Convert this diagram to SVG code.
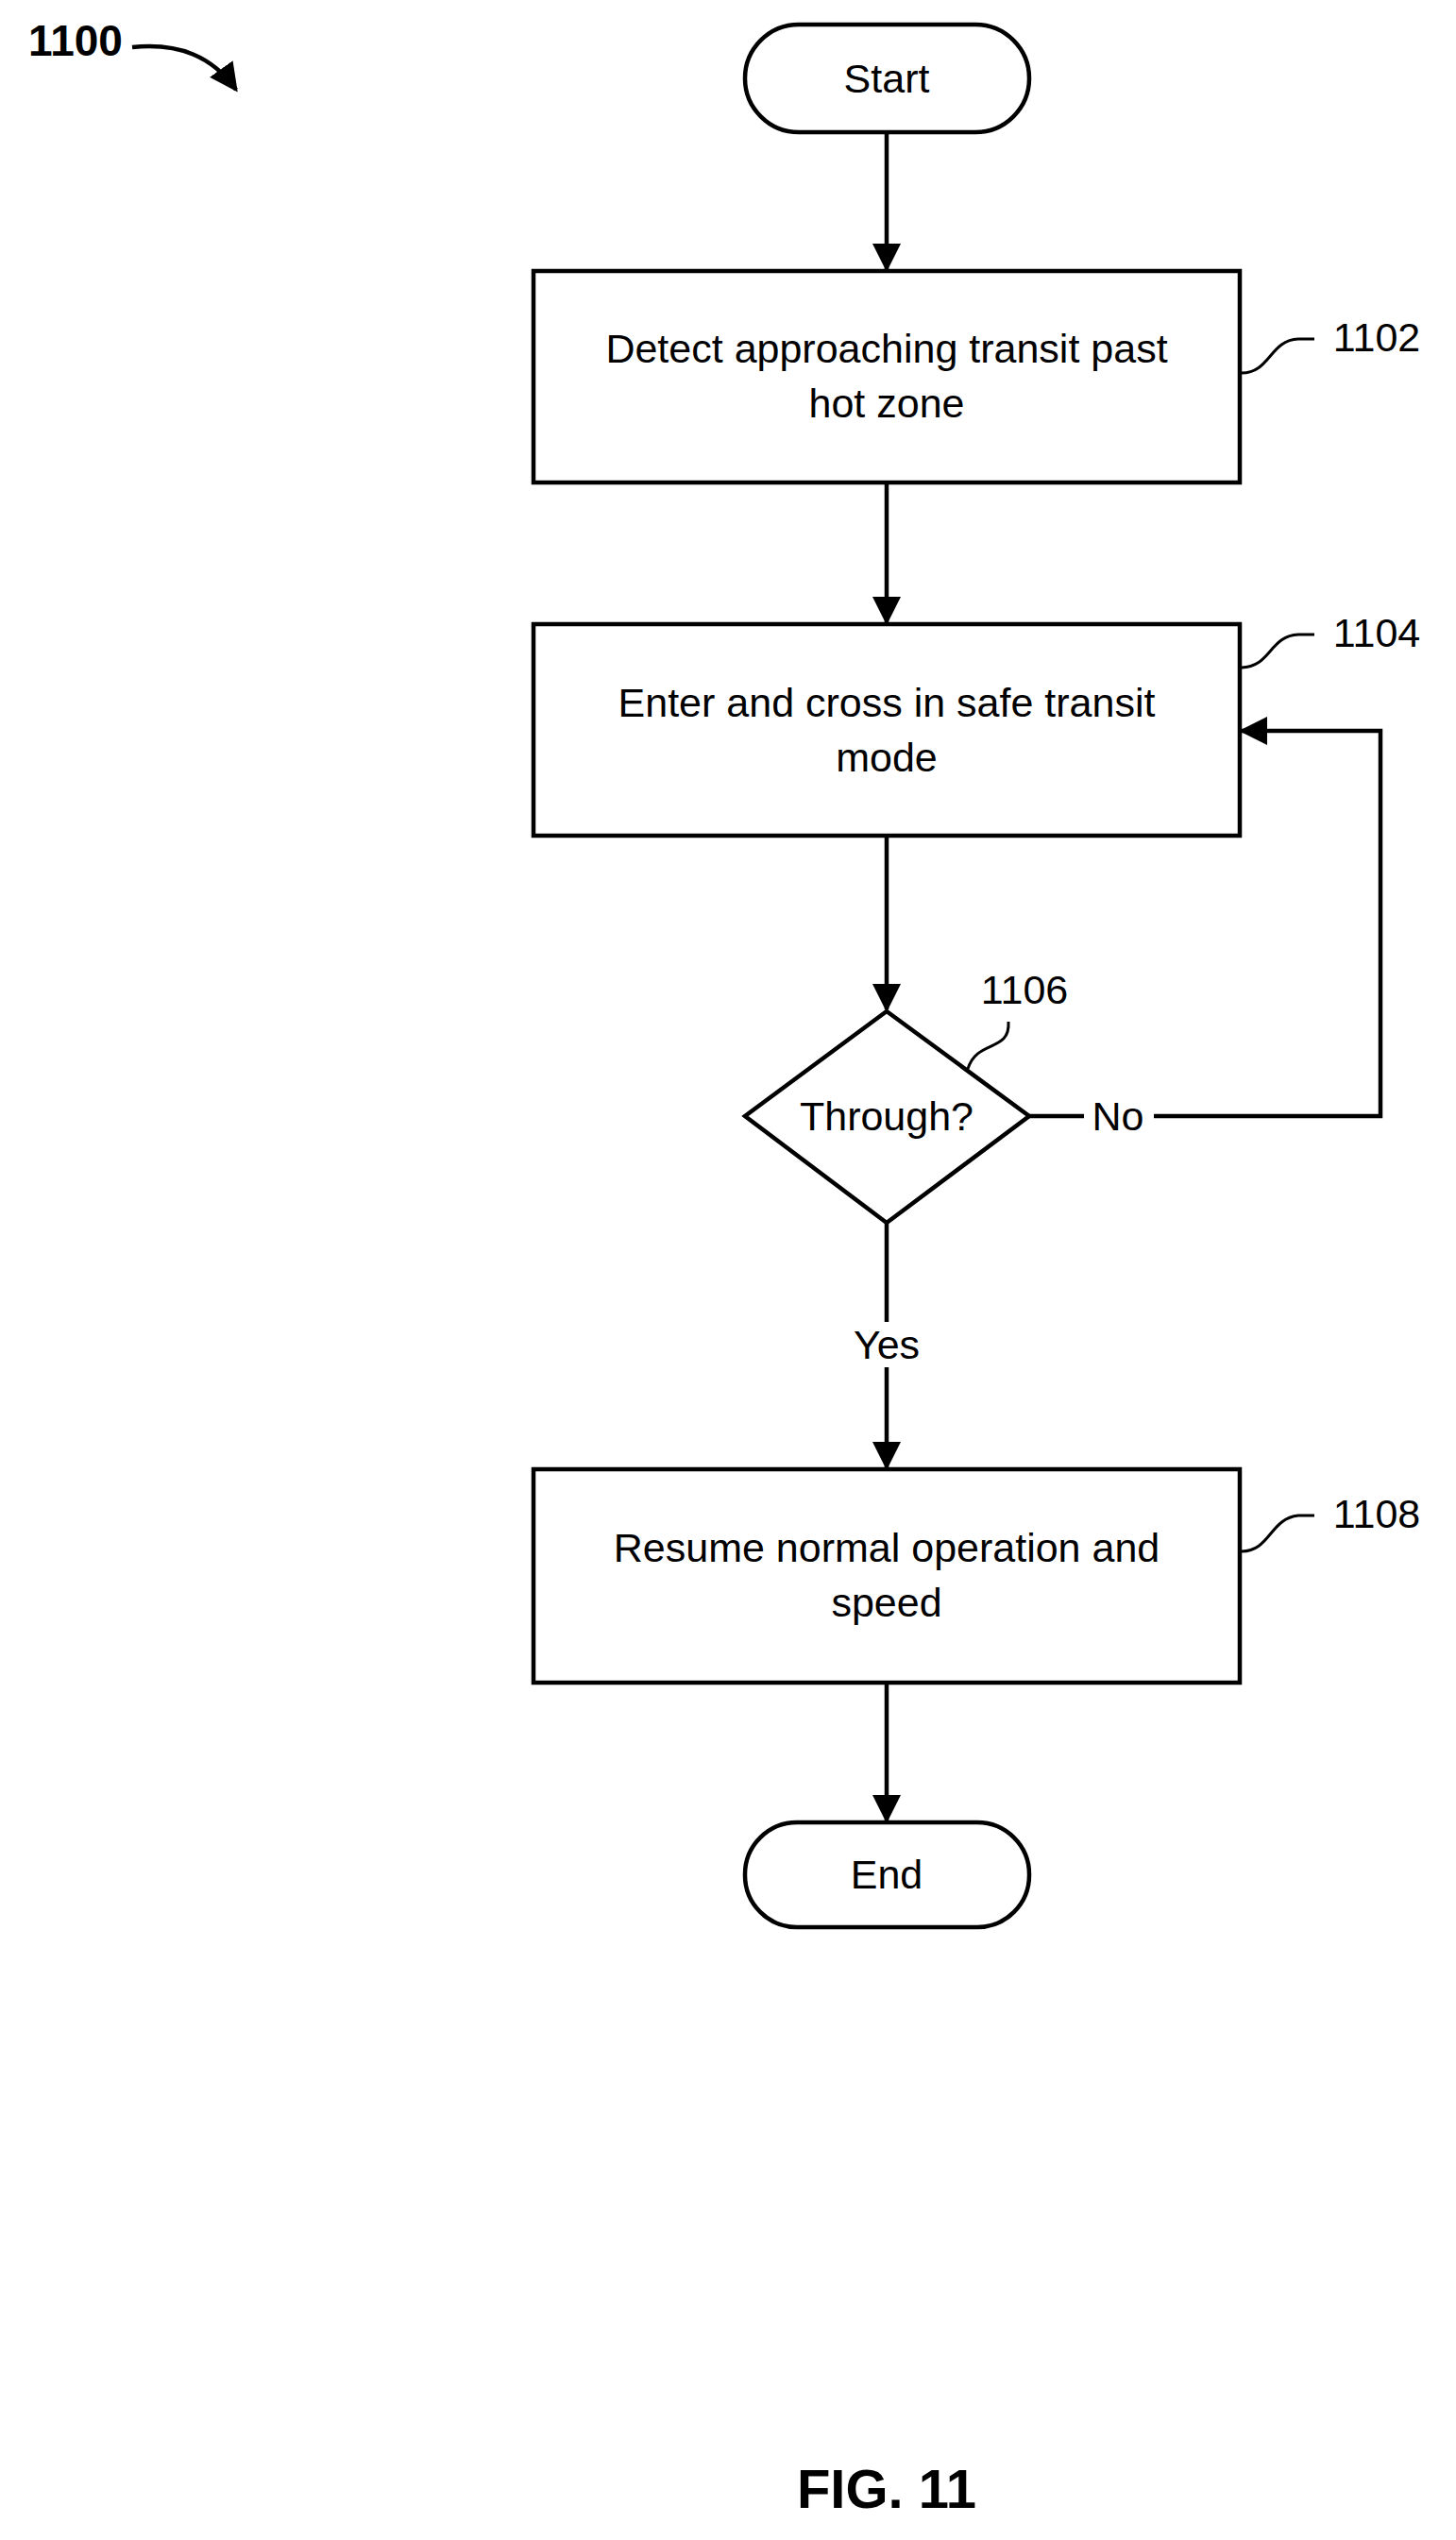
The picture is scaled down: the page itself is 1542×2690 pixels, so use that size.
<svg xmlns="http://www.w3.org/2000/svg" width="1542" height="2690" viewBox="0 0 1542 2690">
<style>
.s{fill:#fff;stroke:#000;stroke-width:4.5}
.t{font-family:"Liberation Sans",Arial,sans-serif;font-size:43px;text-anchor:middle;dominant-baseline:central;fill:#000}
.c{fill:none;stroke:#000;stroke-width:4.5}
.l{fill:none;stroke:#000;stroke-width:3}
</style>
<defs><marker id="a" markerWidth="10" markerHeight="10" refX="9" refY="5" orient="auto" markerUnits="userSpaceOnUse" viewBox="0 0 10 10"><path d="M0,0L10,5L0,10z"/></marker>
<marker id="b" viewBox="0 0 10 10" refX="9" refY="5" markerWidth="30" markerHeight="30" markerUnits="userSpaceOnUse" orient="auto"><path d="M0,0L10,5L0,10z"/></marker></defs>
<text x="80" y="43" class="t" style="font-weight:bold;font-size:46px">1100</text>
<path class="c" d="M140,50 C190,45 225,60 250,95" marker-end="url(#b)"/>
<g id="connectors">
<path class="c" d="M939,140V285" marker-end="url(#b)"/>
<path class="c" d="M939,511V659" marker-end="url(#b)"/>
<path class="c" d="M939,885V1069" marker-end="url(#b)"/>
<path class="c" d="M1090,1182H1148M1222,1182H1462V774H1315" marker-end="url(#b)"/>
<path class="c" d="M939,1295V1400M939,1448V1554" marker-end="url(#b)"/>
<path class="c" d="M939,1782V1928" marker-end="url(#b)"/>
<text x="1184" y="1182" class="t">No</text>
<text x="939" y="1424" class="t">Yes</text>
</g>
<g id="start"><rect class="s" x="789" y="26" width="301" height="114" rx="57"/><text x="939" y="83" class="t">Start</text></g>
<g id="n1102"><rect class="s" x="565" y="287" width="748" height="224"/><text x="939" y="369" class="t">Detect approaching transit past</text><text x="939" y="427" class="t">hot zone</text>
<path class="l" d="M1315,395C1345,395 1345,360 1375,359H1392"/><text x="1458" y="357" class="t">1102</text></g>
<g id="n1104"><rect class="s" x="565" y="661" width="748" height="224"/><text x="939" y="744" class="t">Enter and cross in safe transit</text><text x="939" y="802" class="t">mode</text>
<path class="l" d="M1315,707C1345,707 1345,673 1375,672H1392"/><text x="1458" y="670" class="t">1104</text></g>
<g id="n1106"><path class="s" d="M939,1071L1090,1182L939,1295L789,1182Z"/><text x="939" y="1182" class="t">Through?</text>
<path class="l" d="M1025,1132C1035,1100 1070,1115 1068,1082"/><text x="1085" y="1048" class="t">1106</text></g>
<g id="n1108"><rect class="s" x="565" y="1556" width="748" height="226"/><text x="939" y="1639" class="t">Resume normal operation and</text><text x="939" y="1697" class="t">speed</text>
<path class="l" d="M1315,1643C1345,1643 1345,1608 1375,1605H1392"/><text x="1458" y="1603" class="t">1108</text></g>
<g id="end"><rect class="s" x="789" y="1930" width="301" height="111" rx="55"/><text x="939" y="1985" class="t">End</text></g>
<text x="939" y="2635" class="t" style="font-weight:bold;font-size:58px">FIG. 11</text>
</svg>
